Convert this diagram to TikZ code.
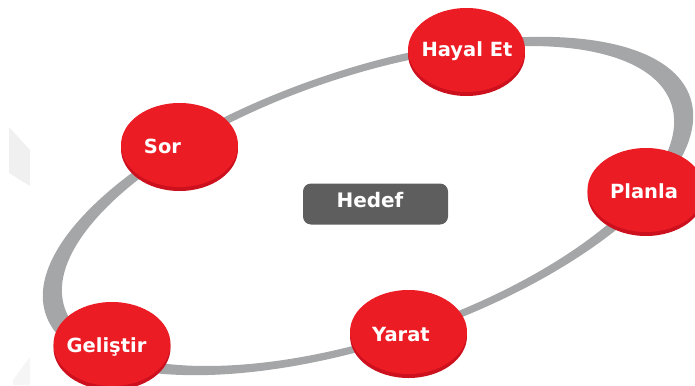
\documentclass[tikz,border=0pt]{standalone}
\usepackage{fontspec}
\setmainfont{DejaVu Sans}
\usetikzlibrary{shapes.geometric,shadows}
\definecolor{discred}{RGB}{236,28,36}
\definecolor{discdark}{RGB}{204,16,30}
\definecolor{ringgray}{RGB}{164,166,168}
\definecolor{boxgray}{RGB}{94,94,94}
\definecolor{faint}{RGB}{240,240,240}
\tikzset{
  disc/.style={ellipse, minimum width=117pt, minimum height=84pt, inner sep=0pt,
    fill=discred, general shadow={fill=discdark, shadow yshift=-4pt}},
  disclabel/.style={anchor=base, text=white, font=\bfseries\fontsize{19.5}{22}\selectfont, inner sep=0pt},
  goalbox/.style={rectangle, rounded corners=8pt, fill=boxgray, minimum width=145pt, minimum height=41pt, inner sep=0pt},
  ringband/.style={fill=ringgray, even odd rule}
}
\begin{document}
\begin{tikzpicture}[x=1pt,y=-1pt]
\useasboundingbox (0,0) rectangle (695,385);
\clip (0,0) rectangle (695,385);
% faint background shapes
\fill[faint] (9,127) -- (30,150) -- (30,186) -- (9,173) -- cycle;
\fill[faint!70!white] (13,380) -- (30,357) -- (30,385) -- (13,385) -- cycle;
% ring
\fill[ringband, shift={(368,206)}, rotate=18.6]
  (0,0) ellipse [x radius=340pt, y radius=137pt]
  (0,0) ellipse [x radius=320pt, y radius=130pt];
% goal
\node[goalbox] (hedefbox) at (375.5,204) {};
\node[disclabel, font=\bfseries\fontsize{20}{24}\selectfont] (hedef) at (370,207.5) {Hedef};
% discs
\node[disc] (hayalC) at (466.5,50) {};
\node[disc] (sorC) at (179.5,145) {};
\node[disc] (planlaC) at (646,190) {};
\node[disc] (yaratC) at (408.5,332) {};
\node[disc] (gelistirC) at (112,344) {};
% labels
\node[disclabel] (hayal) at (467,57) {Hayal Et};
\node[disclabel] (sor) at (162.5,153) {Sor};
\node[disclabel] (planla) at (644,198) {Planla};
\node[disclabel] (yarat) at (401,341) {Yarat};
\node[disclabel] (gelistir) at (106.5,352) {Geliştir};
\end{tikzpicture}
\end{document}
